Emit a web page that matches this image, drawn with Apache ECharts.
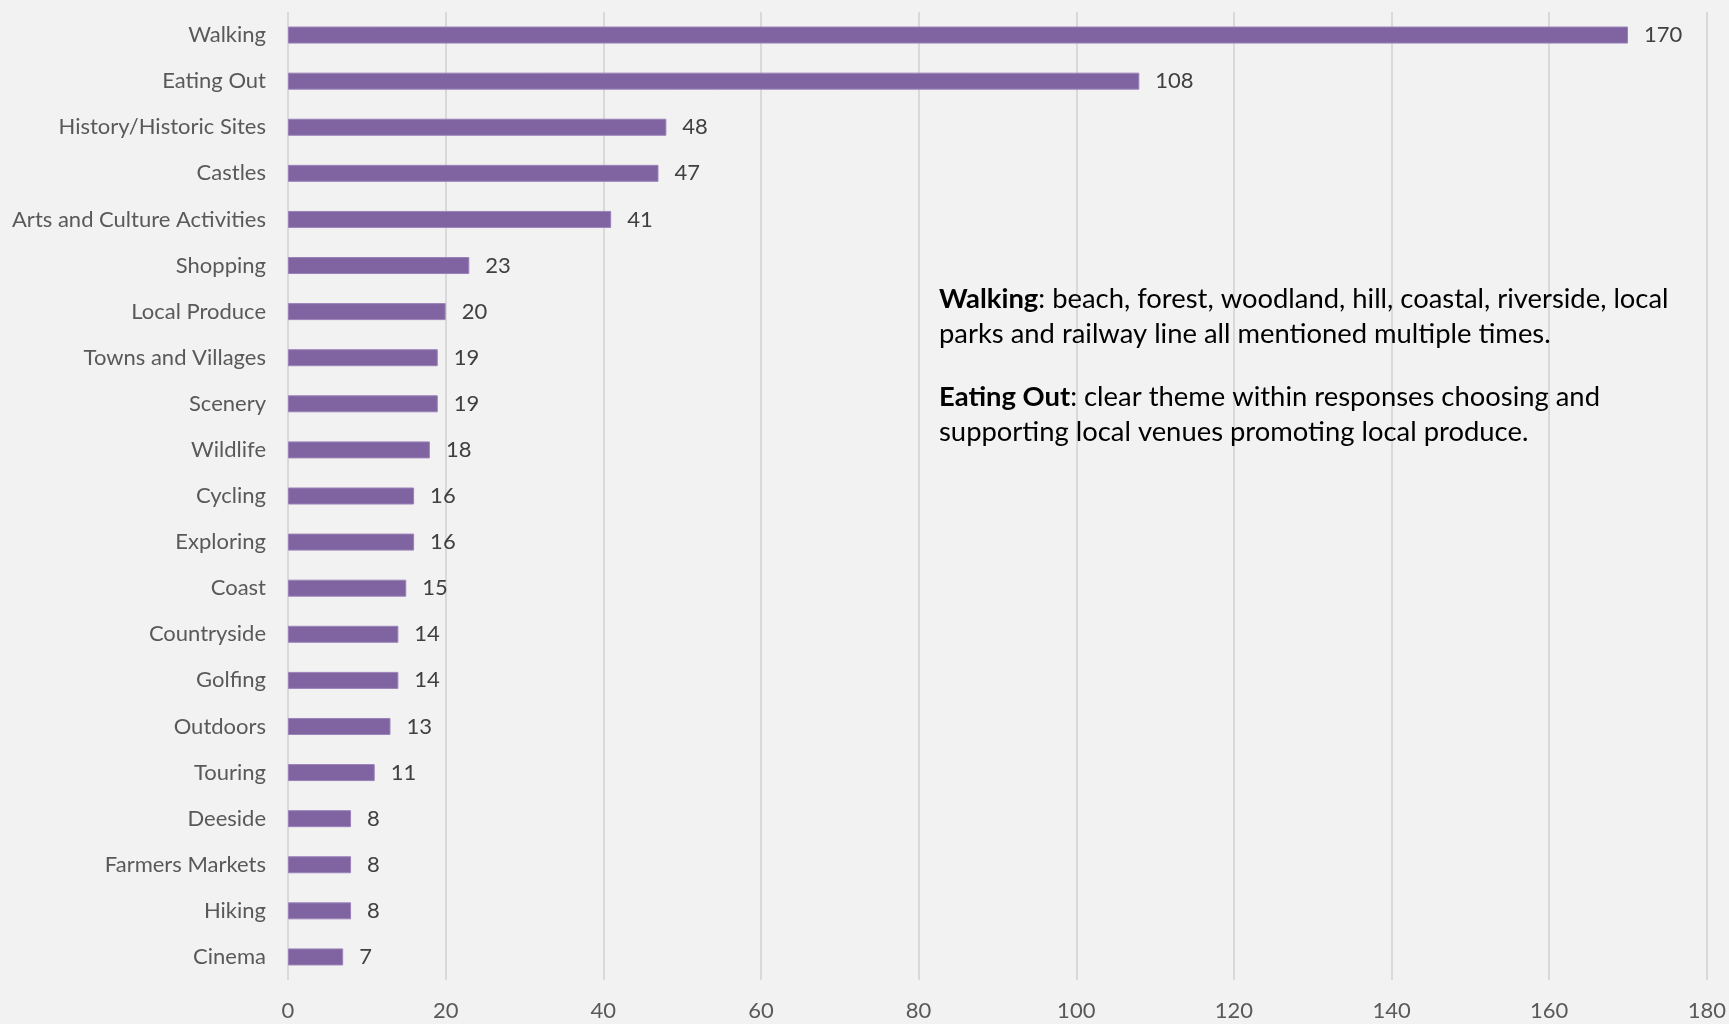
<!DOCTYPE html>
<html>
<head>
<meta charset="utf-8">
<script src="https://cdn.jsdelivr.net/npm/echarts@6/dist/echarts.min.js"></script>
<style>
  html, body { margin: 0; padding: 0; background: #f2f2f2; }
  #chart { width: 1729px; height: 1024px; }
</style>
</head>
<body>
<div id="chart"></div>
<script>
// Activities mentioned in responses, most frequent first
const categories = [
  'Walking', 'Eating Out', 'History/Historic Sites', 'Castles',
  'Arts and Culture Activities', 'Shopping', 'Local Produce',
  'Towns and Villages', 'Scenery', 'Wildlife', 'Cycling', 'Exploring',
  'Coast', 'Countryside', 'Golfing', 'Outdoors', 'Touring', 'Deeside',
  'Farmers Markets', 'Hiking', 'Cinema'
];
const counts = [170, 108, 48, 47, 41, 23, 20, 19, 19, 18, 16, 16, 15, 14, 14, 13, 11, 8, 8, 8, 7];

// Value axis ticks
const axisMin = 0;
const axisMax = 180;
const axisStep = 20;

// Notes shown beside the bars
const noteWalking = '{b|Walking}: beach, forest, woodland, hill, coastal, riverside, local\nparks and railway line all mentioned multiple times.';
const noteEating = '{b|Eating Out}: clear theme within responses choosing and\nsupporting local venues promoting local produce.';

const FONT = 'Lato, "Open Sans", sans-serif';
const NOTE_SIZE = 27.4;
const NOTE_LH = 35.5;

function noteStyle(text) {
  return {
    text: text,
    fill: '#000000',
    font: NOTE_SIZE + 'px ' + FONT,
    lineHeight: NOTE_LH,
    rich: {
      b: { fontWeight: 'bold', fontSize: NOTE_SIZE, fontFamily: FONT, fill: '#000000', lineHeight: NOTE_LH }
    }
  };
}

const chart = echarts.init(document.getElementById('chart'));
chart.setOption({
  backgroundColor: '#f2f2f2',
  animation: false,
  grid: { left: 288, right: 21, top: 12, bottom: 44, containLabel: false },
  xAxis: {
    type: 'value',
    min: axisMin,
    max: axisMax,
    interval: axisStep,
    axisLine: { show: false },
    axisTick: { show: false },
    splitLine: { show: true, lineStyle: { color: '#d9d9d9', width: 2 } },
    axisLabel: { color: '#595959', fontSize: 22, fontFamily: FONT, margin: 20 }
  },
  yAxis: {
    type: 'category',
    data: categories,
    inverse: true,
    axisLine: { show: false },
    axisTick: { show: false },
    axisLabel: { color: '#595959', fontSize: 22, fontFamily: FONT, margin: 22 }
  },
  series: [{
    type: 'bar',
    data: counts,
    barWidth: 17,
    itemStyle: { color: '#8064a2', borderColor: '#9a82b8', borderWidth: 1 },
    label: {
      show: true,
      position: 'right',
      distance: 16,
      color: '#404040',
      fontSize: 22,
      fontFamily: FONT
    }
  }],
  graphic: [
    { type: 'text', left: 939, top: 281, z: 100, style: noteStyle(noteWalking) },
    { type: 'text', left: 939, top: 379, z: 100, style: noteStyle(noteEating) }
  ]
});
</script>
</body>
</html>
